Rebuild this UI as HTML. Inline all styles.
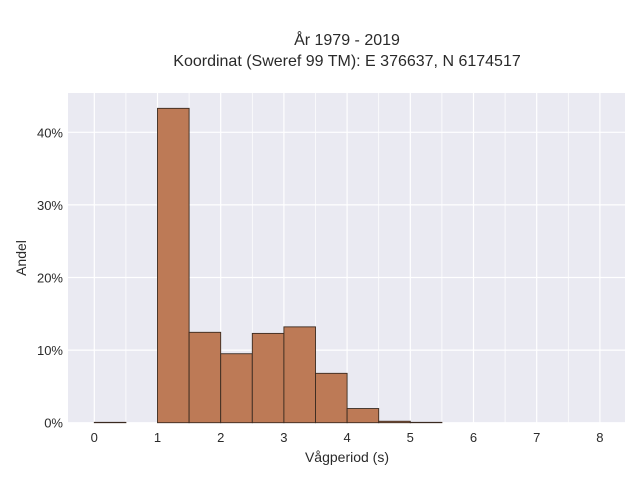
<!DOCTYPE html>
<html><head><meta charset="utf-8"><style>
body{margin:0;background:#fff;font-family:"Liberation Sans",sans-serif;}
svg text{font-family:"Liberation Sans",sans-serif;fill:#2a2a2a;}
</style></head><body>
<svg width="640" height="480">
<text x="347" y="45" text-anchor="middle" font-size="16">År 1979 - 2019</text>
<text x="347" y="66" text-anchor="middle" font-size="16">Koordinat (Sweref 99 TM): E 376637, N 6174517</text>
<rect x="68" y="93" width="557" height="330" fill="#eaeaf2"/>
<g id="grid"></g><g id="bars"></g><g id="ticks"></g>
<text x="347" y="462" text-anchor="middle" font-size="14">Vågperiod (s)</text>
<text transform="translate(26,258) rotate(-90)" text-anchor="middle" font-size="14">Andel</text>
</svg>
<script>
const binStarts=[0,0.5,1,1.5,2,2.5,3,3.5,4,4.5,5];
const shares=[0.05,0,43.3,12.45,9.5,12.3,13.2,6.8,1.95,0.2,0.05];
const xTicks=[0,1,2,3,4,5,6,7,8];
const yTicks=[0,10,20,30,40];
const binWidth=0.5;
const NS="http://www.w3.org/2000/svg";
const X=v=>94.3+v*63.2;
const Y=v=>422.7-v*7.26;
const grid=document.getElementById('grid'),bars=document.getElementById('bars'),ticks=document.getElementById('ticks');
function mk(tag,attrs,parent){const e=document.createElementNS(NS,tag);for(const k in attrs)e.setAttribute(k,attrs[k]);parent.appendChild(e);return e;}
for(let v=-0.5;v<=8.5;v+=0.5){const x=X(v);if(x<68||x>625)continue;
 const l=mk('line',{x1:x,x2:x,y1:93,y2:423,stroke:'#fff','stroke-width':Number.isInteger(v)?1.2:0.7},grid);
 
 }
yTicks.forEach(t=>{const y=Y(t);
 const l=mk('line',{x1:68,x2:625,y1:y,y2:y,stroke:'#fff','stroke-width':1.2},grid);
 
 
 const tx=mk('text',{x:63,y:y+5,'text-anchor':'end','font-size':13},ticks);tx.textContent=t+'%';
 
 });
xTicks.forEach(t=>{const tx=mk('text',{x:X(t),y:442,'text-anchor':'middle','font-size':13},ticks);tx.textContent=t;
 
 });
binStarts.forEach((b,i)=>{if(shares[i]<=0)return;const x0=X(b),x1=X(b+binWidth),y=Y(shares[i]);
 const r=mk('rect',{x:x0,y:y,width:x1-x0,height:Y(0)-y,fill:'#bd7a56',stroke:'#3a2a20','stroke-width':0.9},bars);
 
 });
</script>
</body></html>
